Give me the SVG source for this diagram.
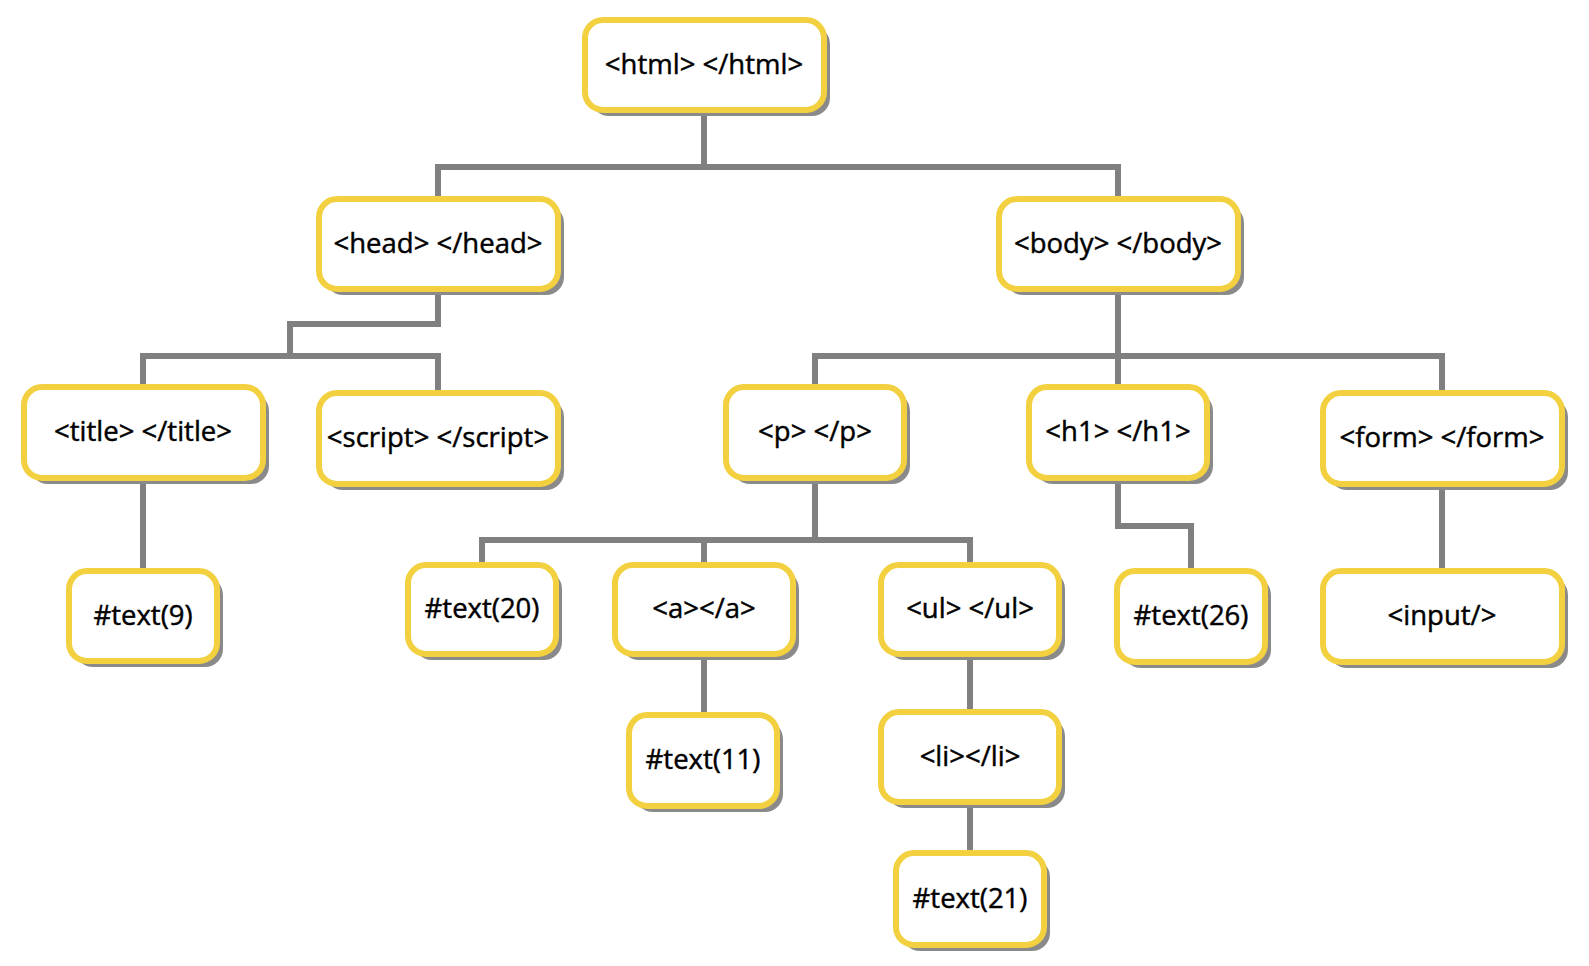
<svg xmlns="http://www.w3.org/2000/svg" width="1589" height="966" viewBox="0 0 1589 966">
<style>
.sh{fill:#8a8a8a;}
.bx{fill:#ffffff;stroke:#F2D03F;stroke-width:6;}
.t{font-family:"Open Sans","Noto Sans",sans-serif;font-size:27.5px;fill:#000;stroke:#000;stroke-width:0.45;text-anchor:middle;}
.c{fill:none;stroke:#808080;stroke-width:6;stroke-linejoin:miter;}
</style>
<rect width="1589" height="966" fill="#ffffff"/>
<g id="connectors">
<path class="c" d="M704 110V167M438 199V167H1118V199"/>
<path class="c" d="M438 289V324H290V356M143 387V356H438V393"/>
<path class="c" d="M1118 289V387M815 387V356H1442V393"/>
<path class="c" d="M143 478V571"/>
<path class="c" d="M815 478V540M482 565V540H970V565M704 540V565"/>
<path class="c" d="M704 654V715"/>
<path class="c" d="M970 654V712M970 802V853"/>
<path class="c" d="M1118 478V526H1191V571"/>
<path class="c" d="M1442 484V571"/>
</g>
<g id="html"><rect class="sh" x="591" y="26" width="239" height="90" rx="18"/><rect class="bx" x="585" y="20" width="239" height="90" rx="18"/><text class="t" x="704" y="74">&lt;html&gt; &lt;/html&gt;</text></g>
<g id="head"><rect class="sh" x="325" y="205" width="239" height="90" rx="18"/><rect class="bx" x="319" y="199" width="239" height="90" rx="18"/><text class="t" x="438" y="253">&lt;head&gt; &lt;/head&gt;</text></g>
<g id="body"><rect class="sh" x="1005" y="205" width="239" height="90" rx="18"/><rect class="bx" x="999" y="199" width="239" height="90" rx="18"/><text class="t" x="1118" y="253">&lt;body&gt; &lt;/body&gt;</text></g>
<g id="title"><rect class="sh" x="30" y="393" width="239" height="91" rx="18"/><rect class="bx" x="24" y="387" width="239" height="91" rx="18"/><text class="t" x="143" y="441">&lt;title&gt; &lt;/title&gt;</text></g>
<g id="script"><rect class="sh" x="325" y="399" width="239" height="91" rx="18"/><rect class="bx" x="319" y="393" width="239" height="91" rx="18"/><text class="t" x="438" y="447">&lt;script&gt; &lt;/script&gt;</text></g>
<g id="p"><rect class="sh" x="732" y="393" width="178" height="91" rx="18"/><rect class="bx" x="726" y="387" width="178" height="91" rx="18"/><text class="t" x="815" y="441">&lt;p&gt; &lt;/p&gt;</text></g>
<g id="h1"><rect class="sh" x="1035" y="393" width="178" height="91" rx="18"/><rect class="bx" x="1029" y="387" width="178" height="91" rx="18"/><text class="t" x="1118" y="441">&lt;h1&gt; &lt;/h1&gt;</text></g>
<g id="form"><rect class="sh" x="1329" y="399" width="239" height="91" rx="18"/><rect class="bx" x="1323" y="393" width="239" height="91" rx="18"/><text class="t" x="1442" y="447">&lt;form&gt; &lt;/form&gt;</text></g>
<g id="text9"><rect class="sh" x="75" y="577" width="148" height="90" rx="18"/><rect class="bx" x="69" y="571" width="148" height="90" rx="18"/><text class="t" x="143" y="625">#text(9)</text></g>
<g id="text20"><rect class="sh" x="414" y="571" width="148" height="89" rx="18"/><rect class="bx" x="408" y="565" width="148" height="89" rx="18"/><text class="t" x="482" y="618">#text(20)</text></g>
<g id="a"><rect class="sh" x="621" y="571" width="178" height="89" rx="18"/><rect class="bx" x="615" y="565" width="178" height="89" rx="18"/><text class="t" x="704" y="618">&lt;a&gt;&lt;/a&gt;</text></g>
<g id="ul"><rect class="sh" x="887" y="571" width="178" height="89" rx="18"/><rect class="bx" x="881" y="565" width="178" height="89" rx="18"/><text class="t" x="970" y="618">&lt;ul&gt; &lt;/ul&gt;</text></g>
<g id="text26"><rect class="sh" x="1123" y="577" width="148" height="91" rx="18"/><rect class="bx" x="1117" y="571" width="148" height="91" rx="18"/><text class="t" x="1191" y="625">#text(26)</text></g>
<g id="input"><rect class="sh" x="1329" y="577" width="239" height="91" rx="18"/><rect class="bx" x="1323" y="571" width="239" height="91" rx="18"/><text class="t" x="1442" y="625">&lt;input/&gt;</text></g>
<g id="text11"><rect class="sh" x="635" y="721" width="148" height="91" rx="18"/><rect class="bx" x="629" y="715" width="148" height="91" rx="18"/><text class="t" x="703" y="769">#text(11)</text></g>
<g id="li"><rect class="sh" x="887" y="718" width="178" height="90" rx="18"/><rect class="bx" x="881" y="712" width="178" height="90" rx="18"/><text class="t" x="970" y="766">&lt;li&gt;&lt;/li&gt;</text></g>
<g id="text21"><rect class="sh" x="902" y="859" width="148" height="92" rx="18"/><rect class="bx" x="896" y="853" width="148" height="92" rx="18"/><text class="t" x="970" y="908">#text(21)</text></g>
</svg>
